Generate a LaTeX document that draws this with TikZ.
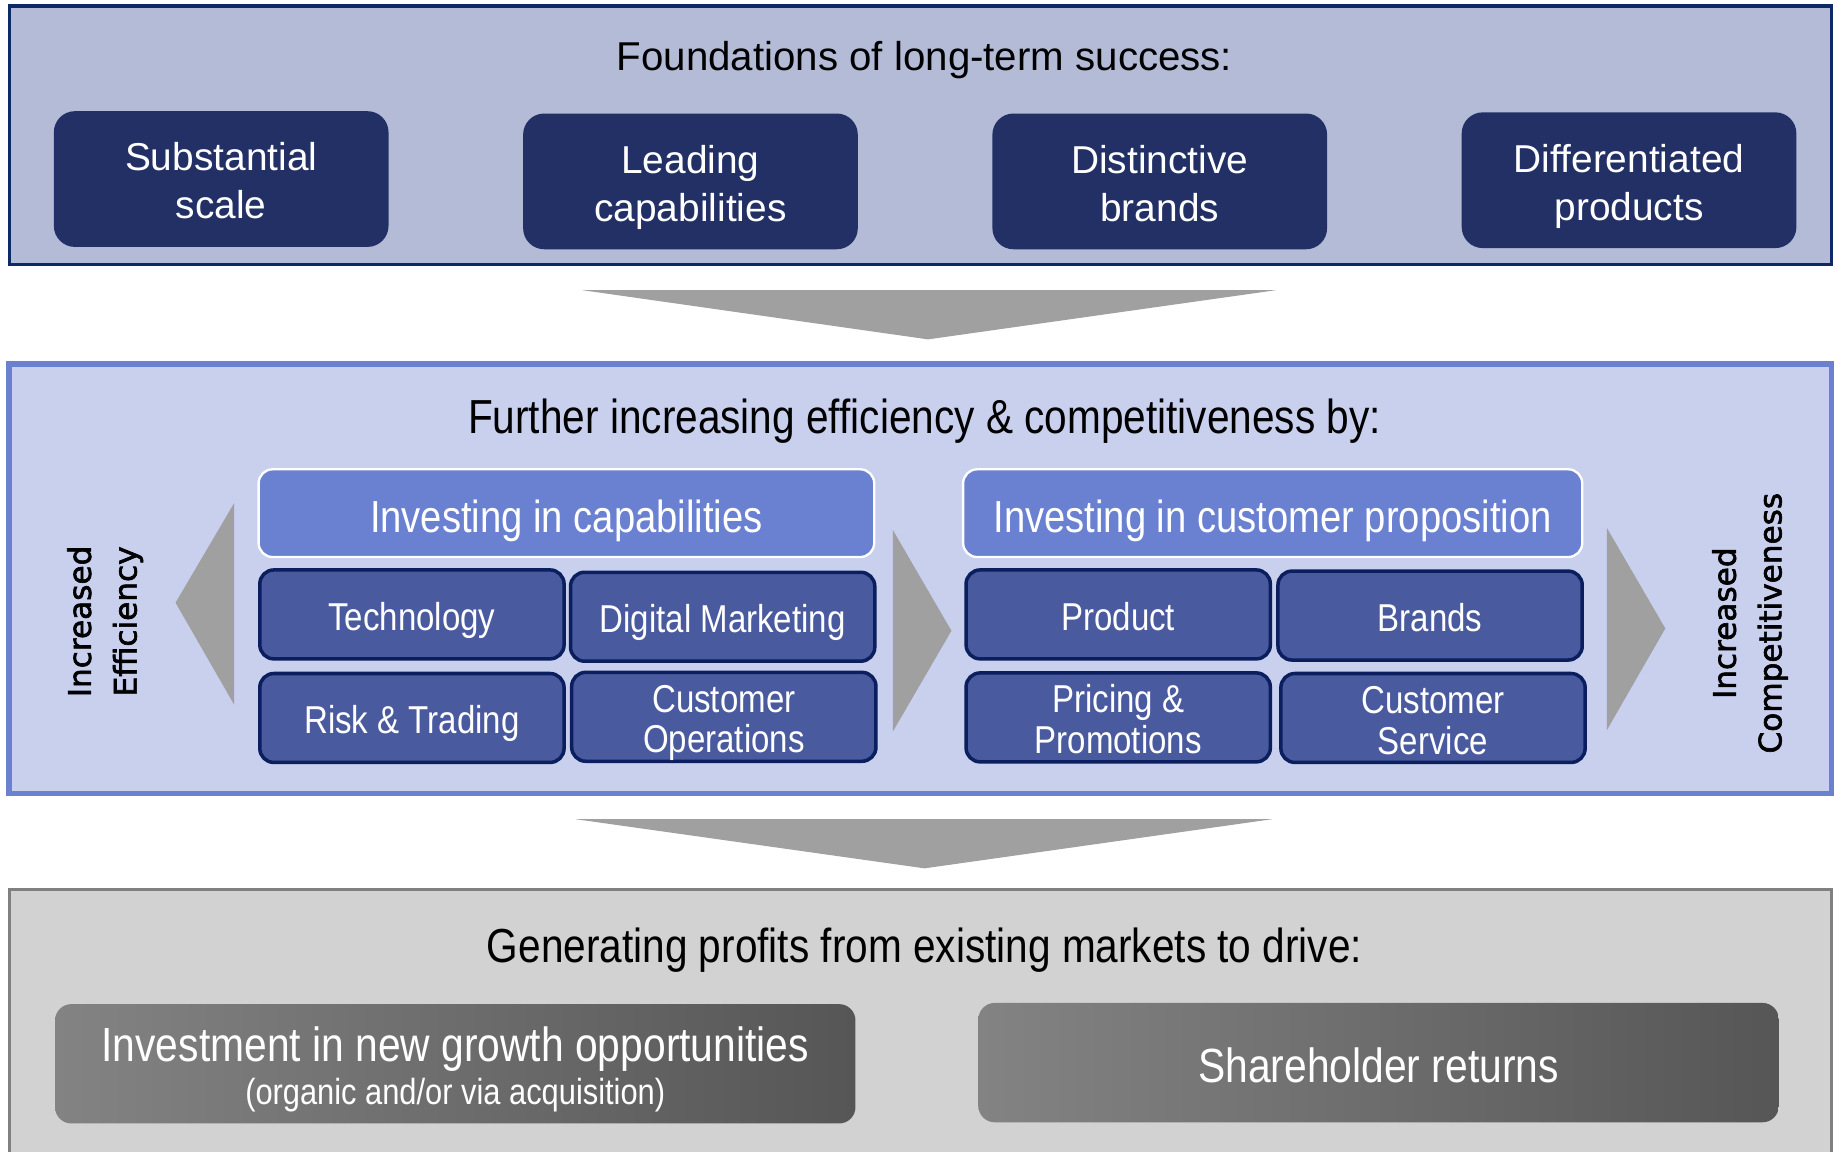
\documentclass[tikz,border=0pt]{standalone}
\usepackage{fontspec}
\setmainfont{Liberation Sans}
\newfontfamily\condfont{Liberation Sans}[FakeStretch=0.85]
\newfontfamily\widefont{DejaVu Sans}[FakeBold=2]
\definecolor{topfill}{HTML}{B3BBD6}
\definecolor{topline}{HTML}{0E2A66}
\definecolor{navy}{HTML}{223066}
\definecolor{midfill}{HTML}{C9D0EE}
\definecolor{midline}{HTML}{6B80CF}
\definecolor{headfill}{HTML}{6A80D0}
\definecolor{subfill}{HTML}{4A5A9E}
\definecolor{subline}{HTML}{0B1F5E}
\definecolor{arrowgray}{HTML}{A0A0A0}
\definecolor{botfill}{HTML}{D2D2D2}
\definecolor{botline}{HTML}{808080}
\definecolor{gradA}{HTML}{838383}
\definecolor{gradB}{HTML}{AEAEAE}
\definecolor{gradC}{HTML}{565656}
% invisible struts that fix the top of a first line and the bottom of a last line
\newcommand\uph[1]{\rule{0pt}{#1}}
\newcommand\dnd[1]{\rule[-#1]{0pt}{#1}}
\begin{document}
\begin{tikzpicture}[x=0.5pt,y=-0.5pt,
  struts/.style 2 args={execute at begin node={\uph{#1}},
    execute at end node={\dnd{#2}}},
  paneltitle/.style={text=black, inner sep=0pt},
  foundbox/.style={rounded corners=9pt, fill=navy, text=white, align=center,
    minimum width=143pt, minimum height=58pt, inner sep=0pt,
    font=\fontsize{16.6}{20.5}\selectfont, struts={17pt}{3.5pt}},
  headbox/.style={rounded corners=6pt, fill=headfill, draw=white, line width=1pt,
    text=white, minimum height=37.5pt, inner sep=0pt,
    font=\condfont\fontsize{19.2}{22}\selectfont, struts={20.4pt}{4pt}},
  subbox/.style={rounded corners=6pt, fill=subfill, draw=subline, line width=1.5pt,
    text=white, align=center, minimum width=130pt, minimum height=38pt, inner sep=0pt,
    font=\condfont\fontsize{16.6}{17.5}\selectfont, struts={16.9pt}{3.5pt}},
  sidelabel/.style={rotate=90, align=center, inner sep=0pt,
    font=\widefont\fontsize{13.3}{19.5}\selectfont, struts={12.8pt}{3.1pt}},
  gradbox/.style={rounded corners=7pt, left color=gradA, middle color=gradB, right color=gradC,
    text=white, align=center, minimum width=342pt, minimum height=51pt, inner sep=0pt},
  bigarrow/.style={fill=arrowgray}]
\path[use as bounding box] (0,0) rectangle (1568,984);
\clip (0,0) rectangle (1568,984);
\fill[white] (0,0) rectangle (1568,984);

% ---- foundations panel
\draw[fill=topfill, draw=topline, line width=1.5pt] (8,5) rectangle (1565,226);
\node[paneltitle, font=\fontsize{17.2}{20}\selectfont, struts={16pt}{3.6pt}] (t1) at (790,48)
  {Foundations of long-term success:};
\node[foundbox] (scale) at (189,153) {\uph{17pt}Substantial\\scale};
\node[foundbox] (capab) at (590,155) {\uph{17pt}Leading\\capabilities};
\node[foundbox] (brandsf) at (991,155) {\uph{17pt}Distinctive\\brands};
\node[foundbox] (prodf) at (1392,154) {\uph{17pt}Differentiated\\products};

% ---- down chevron 1
\coordinate (a1l) at (498,248);
\coordinate (a1r) at (1090,248);
\coordinate (a1t) at (793,290);
\fill[bigarrow] (a1l) -- (a1r) -- (a1t) -- cycle;

% ---- efficiency panel
\draw[fill=midfill, draw=midline, line width=2.5pt] (8,311) rectangle (1565,678);
\node[paneltitle, font=\condfont\fontsize{20.4}{24}\selectfont, struts={19pt}{4.3pt}] (t2) at (790,356)
  {Further increasing efficiency \& competitiveness by:};

\node[headbox, minimum width=263pt] (hcap) at (484,438.5) {Investing in capabilities};
\node[headbox, minimum width=264.5pt] (hcust) at (1087.5,438.5) {Investing in customer proposition};

\node[subbox] (tech) at (352,525) {Technology};
\node[subbox] (digm) at (617.5,527) {Digital Marketing};
\node[subbox] (risk) at (352,613.5) {Risk \& Trading};
\node[subbox] (custops) at (618.5,612.5) {\uph{16.9pt}Customer\\Operations};
\node[subbox] (product) at (955.5,525) {Product};
\node[subbox] (brands) at (1222,526) {Brands};
\node[subbox] (pricing) at (955.5,613) {\uph{16.9pt}Pricing \&\\Promotions};
\node[subbox] (service) at (1224.5,613.5) {\uph{16.9pt}Customer\\Service};

% side and middle arrows
\fill[bigarrow] (200,430) -- (200,602) -- (150,515) -- cycle;
\fill[bigarrow] (763,453) -- (763,625) -- (813,539) -- cycle;
\fill[bigarrow] (1373,451) -- (1373,624) -- (1423,537) -- cycle;

\node[sidelabel] (effl) at (87.5,531) {\uph{12.8pt}Increased\\Efficiency};
\node[sidelabel] (compl) at (1493,532.5) {\uph{12.8pt}Increased\\Competitiveness};

% ---- down chevron 2
\coordinate (a2l) at (492,700);
\coordinate (a2r) at (1087,700);
\coordinate (a2t) at (790,742);
\fill[bigarrow] (a2l) -- (a2r) -- (a2t) -- cycle;

% ---- profits panel
\draw[fill=botfill, draw=botline, line width=1.5pt] (8,760) rectangle (1565,1000);
\node[paneltitle, font=\condfont\fontsize{20.4}{24}\selectfont, struts={19pt}{4.3pt}] (t3) at (790,808)
  {Generating profits from existing markets to drive:};
\node[gradbox, font=\condfont\fontsize{15.5}{18.5}\selectfont, struts={19.7pt}{3.3pt}] (growth) at (389,909)
  {{\uph{19.7pt}\fontsize{20.5}{24}\selectfont Investment in new growth opportunities}\\(organic and/or via acquisition)};
\node[gradbox, font=\condfont\fontsize{20.5}{24}\selectfont, struts={21.1pt}{4.3pt}] (returns) at (1178,908)
  {Shareholder returns};
\end{tikzpicture}
\end{document}
